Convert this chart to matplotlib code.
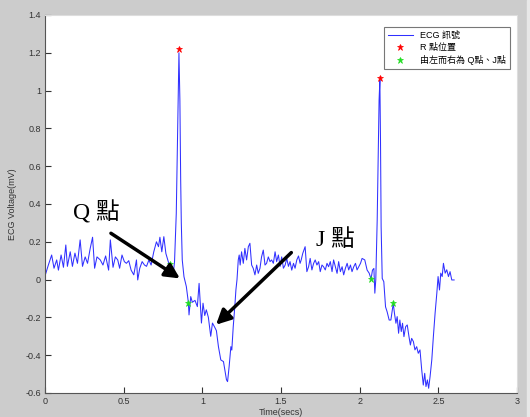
import numpy as np
import matplotlib.pyplot as plt
from matplotlib.patches import Rectangle

# ECG 訊號 (時間, 電壓) 由圖上讀出
t = [0.000, 0.021, 0.042, 0.057, 0.074, 0.085, 0.102, 0.117, 0.132, 0.142,
     0.160, 0.174, 0.190, 0.206, 0.223, 0.238, 0.255, 0.270, 0.287, 0.302,
     0.315, 0.330, 0.351, 0.368, 0.385, 0.404, 0.415, 0.432, 0.447, 0.462,
     0.474, 0.489, 0.504, 0.517, 0.532, 0.547, 0.564, 0.581, 0.589, 0.602,
     0.617, 0.632, 0.645, 0.660, 0.674, 0.691, 0.708, 0.721, 0.730, 0.742,
     0.755, 0.768, 0.785, 0.793, 0.802, 0.815, 0.823, 0.834, 0.843, 0.851,
     0.857, 0.862, 0.866, 0.872, 0.883, 0.898, 0.911, 0.915, 0.926, 0.936,
     0.953, 0.968, 0.979, 0.994, 1.004, 1.015, 1.025, 1.038, 1.053, 1.064,
     1.077, 1.089, 1.102, 1.117, 1.134, 1.143, 1.153, 1.160, 1.170, 1.181,
     1.187, 1.196, 1.206, 1.213, 1.220, 1.228, 1.234, 1.240, 1.249, 1.260,
     1.270, 1.281, 1.292, 1.302, 1.313, 1.323, 1.334, 1.345, 1.355, 1.366,
     1.376, 1.387, 1.398, 1.408, 1.419, 1.430, 1.440, 1.451, 1.462, 1.472,
     1.483, 1.494, 1.504, 1.515, 1.526, 1.536, 1.547, 1.557, 1.568, 1.579,
     1.589, 1.600, 1.611, 1.621, 1.628, 1.638, 1.653, 1.664, 1.675, 1.685,
     1.696, 1.707, 1.717, 1.728, 1.739, 1.749, 1.760, 1.770, 1.781, 1.792,
     1.802, 1.813, 1.824, 1.834, 1.845, 1.856, 1.866, 1.877, 1.888, 1.898,
     1.909, 1.920, 1.930, 1.941, 1.951, 1.962, 1.973, 1.983, 1.994, 2.005,
     2.015, 2.032, 2.047, 2.060, 2.072, 2.081, 2.090, 2.096, 2.102, 2.111,
     2.117, 2.123, 2.128, 2.132, 2.136, 2.143, 2.153, 2.164, 2.174, 2.187,
     2.198, 2.213, 2.221, 2.230, 2.238, 2.247, 2.255, 2.264, 2.272, 2.281,
     2.292, 2.302, 2.313, 2.322, 2.330, 2.341, 2.351, 2.362, 2.372, 2.383,
     2.394, 2.404, 2.413, 2.421, 2.430, 2.438, 2.447, 2.458, 2.468, 2.479,
     2.490, 2.498, 2.507, 2.515, 2.524, 2.532, 2.543, 2.553, 2.564, 2.574,
     2.585, 2.600]
ecg = [0.020, 0.077, 0.130, 0.060, 0.104, 0.050, 0.130, 0.065, 0.183, 0.070,
       0.147, 0.070, 0.140, 0.086, 0.210, 0.070, 0.120, 0.086, 0.165, 0.224,
       0.060, 0.120, 0.104, 0.077, 0.125, 0.050, 0.210, 0.065, 0.120, 0.104,
       0.060, 0.130, 0.095, 0.086, 0.100, 0.050, 0.025, 0.104, -0.002, 0.060,
       0.095, 0.077, 0.070, 0.104, 0.077, 0.147, 0.200, 0.174, 0.224, 0.147,
       0.227, 0.138, 0.090, 0.083, 0.073, 0.033, 0.095, 0.350, 0.800, 1.200,
       0.950, 0.527, 0.300, 0.104, 0.015, -0.037, -0.122, -0.187, -0.090, -0.120,
       -0.110, -0.143, -0.020, -0.230, -0.125, -0.190, -0.160, -0.200, -0.300, -0.230,
       -0.250, -0.270, -0.355, -0.425, -0.434, -0.478, -0.530, -0.540, -0.460, -0.355,
       -0.373, -0.250, -0.143, -0.055, 0.000, 0.104, 0.130, 0.077, 0.147, 0.086,
       0.165, 0.104, 0.174, 0.192, 0.077, 0.060, 0.025, 0.077, 0.033, 0.060,
       0.120, 0.156, 0.077, 0.086, 0.120, 0.095, 0.104, 0.086, 0.147, 0.095,
       0.130, 0.070, 0.120, 0.060, 0.077, 0.112, 0.070, 0.095, 0.050, 0.086,
       0.060, 0.104, 0.125, 0.086, 0.104, 0.139, 0.174, 0.042, 0.068, 0.112,
       0.051, 0.086, 0.104, 0.077, 0.095, 0.042, 0.077, 0.068, 0.051, 0.086,
       0.068, 0.095, 0.042, 0.104, 0.068, 0.033, 0.095, 0.042, 0.068, 0.025,
       0.060, 0.086, 0.051, 0.077, 0.042, 0.068, 0.086, 0.051, 0.068, 0.086,
       0.112, 0.104, 0.050, 0.034, 0.003, 0.050, 0.059, -0.072, -0.002, 0.315,
       0.633, 0.950, 1.056, 0.738, 0.280, 0.006, -0.011, -0.144, -0.170, -0.214,
       -0.214, -0.126, -0.180, -0.231, -0.196, -0.284, -0.214, -0.275, -0.231, -0.302,
       -0.249, -0.240, -0.302, -0.346, -0.311, -0.328, -0.372, -0.355, -0.390, -0.372,
       -0.478, -0.558, -0.496, -0.566, -0.531, -0.575, -0.514, -0.425, -0.302, -0.178,
       -0.072, 0.016, -0.055, 0.034, 0.016, 0.086, 0.034, 0.052, 0.016, 0.042,
       -0.002, -0.002]

# R 點
r_t = [0.851, 2.128]
r_v = [1.22, 1.065]
# Q點、J點
qj_t = [0.793, 0.911, 2.072, 2.213]
qj_v = [0.083, -0.122, 0.003, -0.126]

xticks = [0, 0.5, 1, 1.5, 2, 2.5, 3]
xlabels = ['0', '0.5', '1', '1.5', '2', '2.5', '3']
yticks = [-0.6, -0.4, -0.2, 0, 0.2, 0.4, 0.6, 0.8, 1, 1.2, 1.4]
ylabels = ['-0.6', '-0.4', '-0.2', '0', '0.2', '0.4', '0.6', '0.8', '1', '1.2', '1.4']

cjk = ['Liberation Sans', 'Noto Sans CJK TC']
serif = ['Liberation Serif', 'Noto Sans CJK TC']

fig = plt.figure(figsize=(5.3, 4.17), dpi=100, facecolor='#cccccc')
fig.patches.append(Rectangle((527 / 530, 0), 3 / 530, 1, transform=fig.transFigure,
                             color='#e8e8e8', zorder=0))
ax = fig.add_axes([0.085, 0.0576, 0.8906, 0.9065])

ax.plot(t, ecg, color='#3030ff', lw=0.75, label='ECG 訊號')
ax.plot(r_t, r_v, ls='none', marker='*', ms=4.5, color='red', mew=0.5, label='R 點位置')
ax.plot(qj_t, qj_v, ls='none', marker='*', ms=4.5, color='#22dd22', mew=0.5,
        label='由左而右為 Q點、J點')

ax.set_xlim(0, 3)
ax.set_ylim(-0.6, 1.4)
ax.set_xticks(xticks)
ax.set_xticklabels(xlabels)
ax.set_yticks(yticks)
ax.set_yticklabels(ylabels)
ax.tick_params(direction='in', length=4, width=0.8, labelsize=6.5, colors='#333333',
               pad=3)
for lab in ax.get_xticklabels() + ax.get_yticklabels():
    lab.set_family('Liberation Sans')
for s in ['left', 'bottom']:
    ax.spines[s].set_color('#555555')
for s in ['top', 'right']:
    ax.spines[s].set_color('#dddddd')

ax.set_xlabel('Time(secs)', fontsize=6.5, color='#333333', family='Liberation Sans',
              labelpad=1)
ax.set_ylabel('ECG Voltage(mV)', fontsize=6.5, color='#333333', family='Liberation Sans',
              labelpad=6)

leg = ax.legend(loc='upper right', prop={'family': cjk, 'size': 6.5},
                frameon=True, fancybox=False, edgecolor='#555555', borderpad=0.4,
                labelspacing=0.35, handlelength=2.8, bbox_to_anchor=(0.994, 0.98))
leg.get_frame().set_linewidth(0.8)

# 標註 Q 點與 J 點
ax.text(0.18, 0.352, 'Q 點', fontsize=17, family=serif, va='center', color='k')
ax.annotate('', xy=(0.872, -0.002), xytext=(0.404, 0.253),
            arrowprops=dict(arrowstyle='-|>', color='k', lw=2.5, mutation_scale=22))
ax.text(1.72, 0.21, 'J 點', fontsize=17, family=serif, va='center', color='k')
ax.annotate('', xy=(1.074, -0.249), xytext=(1.578, 0.153),
            arrowprops=dict(arrowstyle='-|>', color='k', lw=2.5, mutation_scale=22))

fig.savefig('out.png', dpi=100, facecolor=fig.get_facecolor())
